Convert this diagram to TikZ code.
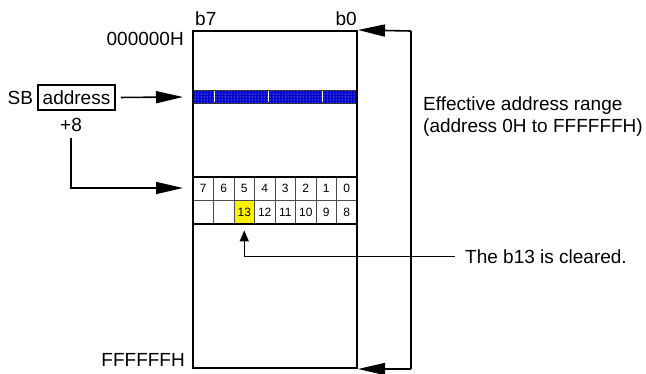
\documentclass[tikz,border=0pt]{standalone}
\usepackage{fontspec}
\setmainfont{Liberation Sans}
\usetikzlibrary{arrows.meta, positioning, fit, backgrounds, patterns}

\begin{document}
\begin{tikzpicture}[
        x=1pt, y=-1pt,
        % text styles
        lbl/.style={inner sep=0pt, font=\fontsize{19}{22}\selectfont},
        cell/.style={
            rectangle,
            draw=black!70,
            line width=0.8pt,
            minimum width=20.5pt,
            minimum height=23.5pt,
            inner sep=0pt,
            font=\fontsize{12}{14}\selectfont
        },
        % memory area and the SB row
        memory/.style={
            rectangle,
            draw,
            line width=2pt,
            minimum width=164pt,
            minimum height=337pt
        },
        band/.style={
            rectangle,
            draw=black!80,
            line width=0.8pt,
            preaction={fill=blue!80!black},
            pattern=dots,
            pattern color=white,
            minimum width=164pt,
            minimum height=13pt
        },
        % arrow styles
        arrow/.style={
            -{Triangle[length=27pt, width=12pt]},
            line width=1.6pt
        },
        smallarrow/.style={
            -{Triangle[length=11pt, width=9pt]},
            line width=1.4pt
        }
    ]

    \useasboundingbox (0,0) rectangle (646,373);

    % ================= memory map =================
    \node[band] (sbrow) at (275,96.5) {};
    \foreach \x in {214,268,322}
        \draw[white, line width=1pt] (\x,91) -- (\x,102);

    \foreach \i in {0,...,7} {
        \pgfmathtruncatemacro\lo{7-\i}
        \pgfmathtruncatemacro\hi{15-\i}
        \node[cell] (bit\lo) at ({203.25+20.5*\i},188.75) {\lo};
        \node[cell] (bit\hi) at ({203.25+20.5*\i},212.25) {\ifnum\i>1 \hi\fi};
    }
    \begin{scope}[on background layer]
        \fill[yellow] (bit13.south west) rectangle (bit13.north east);
    \end{scope}
    \node[draw, line width=2pt, inner sep=0pt, fit=(bit7)(bit8)] (word) {};

    \node[memory] (mem) at (275,199.5) {};

    \node[lbl, anchor=base west] (b7) at (195,25) {b7};
    \node[lbl, anchor=base east] (b0) at (357,25) {b0};
    \node[lbl, anchor=base east] (start) at (184,45) {000000H};
    \node[lbl, anchor=base east] (last) at (185,366) {FFFFFFH};

    % ================= SB address =================
    \node[lbl, draw, line width=1.5pt, minimum width=77pt, minimum height=25pt] (addr) at (76.5,97.5) {address};
    \node[lbl, left=4pt of addr] (sb) {SB};
    \node[lbl, anchor=base west] (plus) at (60,131) {+8};

    \coordinate (bandin) at (183,97);
    \coordinate (wordin) at (183,188);
    \draw[arrow, shorten <=5pt] (addr.east) -- (bandin);
    \draw[arrow, shorten <=7pt] (plus.south) |- (wordin);

    % ================= address range =================
    \coordinate (rngtop) at (411,31);
    \coordinate (rngbot) at (411,369);
    \draw[arrow] (rngtop) -- (mem.north east);
    \draw[arrow] (rngbot) -- (mem.south east);
    \draw[line width=1.6pt] (rngtop) -- (rngbot);
    \node[lbl, anchor=west, align=left] (range) at (423,117)
        {Effective address range\\(address 0H to FFFFFFH)};

    % ================= cleared bit =================
    \node[lbl, anchor=base west] (clr) at (465,263) {The b13 is cleared.};
    \draw[smallarrow, shorten <=10pt, shorten >=6pt] (clr.west) -| (bit13.south);

\end{tikzpicture}
\end{document}
